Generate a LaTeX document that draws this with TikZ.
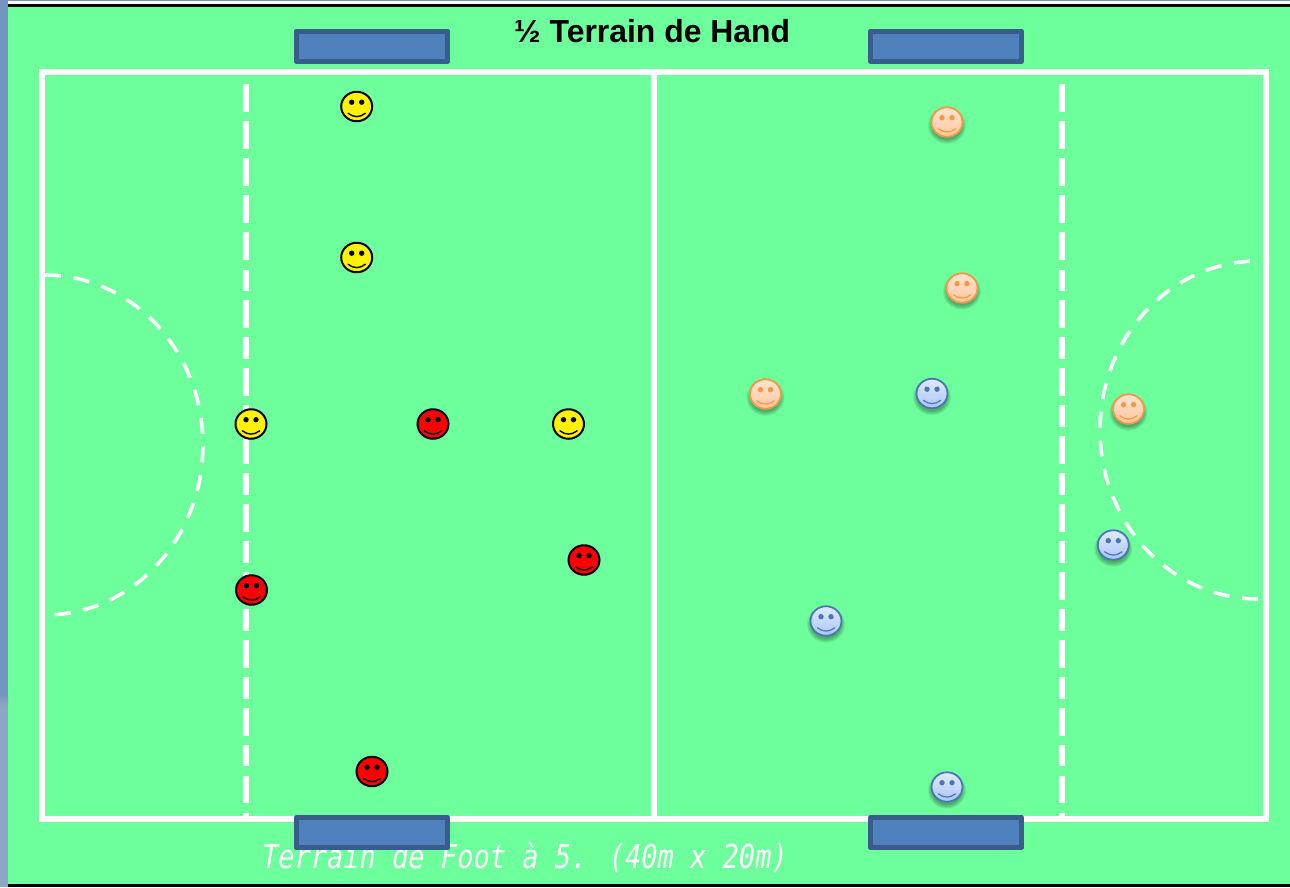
\documentclass[tikz,border=0pt]{standalone}
\usepackage{fontspec}
\usepackage{graphicx}
\setmainfont{Liberation Sans}
\newfontfamily\footfont{DejaVu Sans Mono}
\usetikzlibrary{shapes.geometric}
\definecolor{pitch}{HTML}{6CFF9C}
\definecolor{stripA}{HTML}{7496BE}
\definecolor{stripB}{HTML}{8CA6C4}
\definecolor{goalEdge}{HTML}{385D8A}
\definecolor{goalFill}{HTML}{4F81BD}
\definecolor{orangeEdge}{HTML}{F79646}
\definecolor{blueEdge}{HTML}{4A75B8}
\definecolor{orangeTop}{HTML}{FFE3CF}
\definecolor{orangeBot}{HTML}{FFC79C}
\definecolor{blueTop}{HTML}{E0EAFF}
\definecolor{blueBot}{HTML}{AAC6F5}
\tikzset{
  pitchline/.style={draw=white,line width=6pt,line join=miter},
  arcline/.style={draw=white,line width=3.6pt,dash pattern=on 16pt off 12.8pt},
  goalbox/.style={draw=goalEdge,fill=goalFill,line width=5.2pt,line join=round},
  facebase/.style={ellipse,inner sep=0pt,minimum width=31pt,minimum height=29.5pt,line width=2pt},
  yellowface/.style={facebase,draw=black,fill=yellow},
  redface/.style={facebase,draw=black,fill=red},
  orangeface/.style={facebase,draw=orangeEdge,line width=1.8pt,top color=orangeTop,bottom color=orangeBot},
  blueface/.style={facebase,draw=blueEdge,line width=1.8pt,top color=blueTop,bottom color=blueBot},
}
% name, x, y, style, feature colour, smile width
\newcommand{\smiley}[6]{%
  \begin{scope}[shift={(#2,#3)}]
    \node[#4] (#1) at (0,0) {};
    \fill[#5] (-5,-4.3) circle[radius=2.7pt] (5,-4.3) circle[radius=2.7pt];
    \draw[#5,line width=#6,line cap=round] (-8.6,6.8) .. controls (-3,11.2) and (3,11.2) .. (8.6,6.8);
  \end{scope}}
\newcommand{\softshadow}[2]{%
  \foreach \r in {19,18,17,16,15}{%
    \fill[black,opacity=.07] (#1,#2+3.5) ellipse[x radius=\r pt,y radius=\r pt-0.8pt];}}
\newcommand{\softsmiley}[6]{\softshadow{#2}{#3}\smiley{#1}{#2}{#3}{#4}{#5}{#6}}
\begin{document}
\begin{tikzpicture}[x=1pt,y=-1pt]
\useasboundingbox (0,0) rectangle (1290,887);
% page
\fill[pitch] (0,0) rectangle (1290,887);
\fill[white] (8,0) rectangle (1290,4);
\fill[stripA] (8,0) rectangle (1290,1);
\fill[black] (8,4) rectangle (1290,7);
\fill[black] (8,884) rectangle (1290,887);
\fill[stripA] (0,0) rectangle (8,695);
\shade[top color=stripA,bottom color=stripB] (0,695) rectangle (8,705);
\fill[stripB] (0,705) rectangle (8,887);
% field
\draw[pitchline] (42,72) rectangle (1266,819);
\draw[pitchline] (654,72) -- (654,819);
% dashed lines
\foreach \lx in {246,1062}{
  \foreach \a/\b in {84/112,121/149,158/186,195/223,232/260,270/291,300/328,337/359,368/396,405/427,436/464,473/495,504/532,541/563,572/600,609/631,640/668,677/699,708/736,745/766,776/803,813/817}{
    \fill[white] (\lx-3,\a) rectangle (\lx+3,\b);
  }
}
% goal areas
\draw[arcline] plot[domain=0:177.6,samples=120,smooth] ({45+158*sin(\x)},{445-170*cos(\x)});
\draw[arcline] plot[domain=0:177.5,samples=120,smooth] ({1258-158*sin(\x)},{430+169*cos(\x)});
% texts
\node[anchor=base west,inner sep=0pt,font=\bfseries\fontsize{31.9}{34}\selectfont] (title) at (514,42) {½ Terrain de Hand};
\node[anchor=base west,inner sep=0pt,text=white,font=\footfont\itshape\fontsize{27}{30}\selectfont] (foot) at (262,868.5) {\scalebox{1}[1.22]{Terrain de Foot à 5. (40m x 20m)}};
% goals
\draw[goalbox] (296.2,31.2) rectangle (447.8,61.2);
\draw[goalbox] (870.6,31.2) rectangle (1021.4,61.2);
\draw[goalbox] (296.2,817.8) rectangle (447.8,847.8);
\draw[goalbox] (870.6,817.8) rectangle (1021.4,847.8);
% yellow team
\smiley{y1}{356.7}{106.5}{yellowface}{black}{1.4pt}
\smiley{y2}{356.7}{257.5}{yellowface}{black}{1.4pt}
\smiley{y3}{251}{424}{yellowface}{black}{1.4pt}
\smiley{y4}{568.5}{424}{yellowface}{black}{1.4pt}
% red team
\smiley{r1}{433}{424}{redface}{black}{1.4pt}
\smiley{r2}{584}{560}{redface}{black}{1.4pt}
\smiley{r3}{251.5}{590}{redface}{black}{1.4pt}
\smiley{r4}{372}{771.5}{redface}{black}{1.4pt}
% orange team
\softsmiley{o1}{947}{122}{orangeface}{orangeEdge}{1.2pt}
\softsmiley{o2}{962}{288}{orangeface}{orangeEdge}{1.2pt}
\softsmiley{o3}{765.5}{394}{orangeface}{orangeEdge}{1.2pt}
\softsmiley{o4}{1128.5}{409}{orangeface}{orangeEdge}{1.2pt}
% blue team
\softsmiley{b1}{932}{393.5}{blueface}{blueEdge}{1.2pt}
\softsmiley{b2}{1113.3}{545}{blueface}{blueEdge}{1.2pt}
\softsmiley{b3}{826}{621}{blueface}{blueEdge}{1.2pt}
\softsmiley{b4}{947}{787}{blueface}{blueEdge}{1.2pt}
\end{tikzpicture}
\end{document}
